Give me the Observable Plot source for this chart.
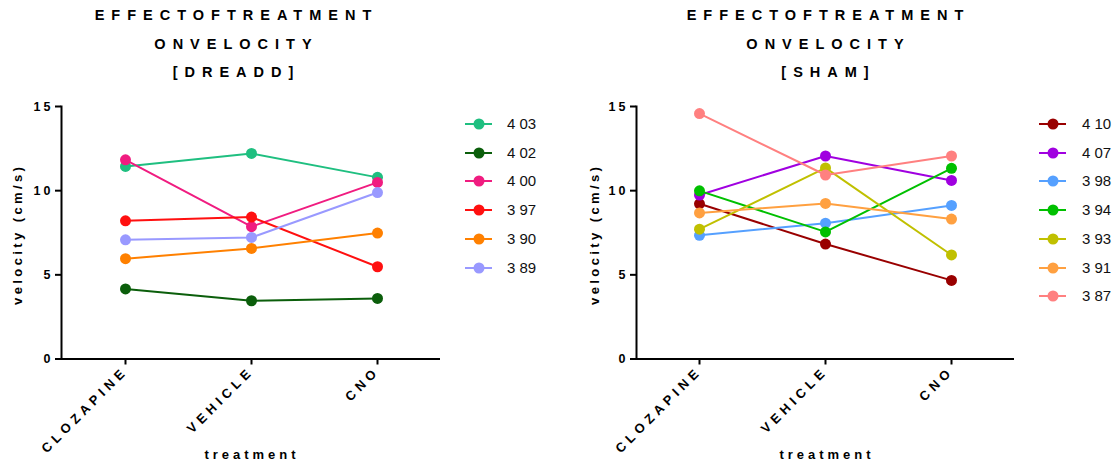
<!DOCTYPE html>
<html><head><meta charset="utf-8">
<script src="https://cdn.jsdelivr.net/npm/d3@7"></script>
<script src="https://cdn.jsdelivr.net/npm/@observablehq/plot@0.6"></script>
<style>
body{margin:0;background:#fff;font-family:"Liberation Sans",Arial,sans-serif;}
#root{position:relative;width:1118px;height:466px;overflow:hidden;background:#fff;}
.title{position:absolute;width:400px;text-align:center;font-weight:bold;font-size:14.5px;letter-spacing:7px;line-height:28.5px;top:1px;color:#000;padding-left:7px;box-sizing:border-box;}
.ylab{position:absolute;width:240px;height:16px;line-height:16px;text-align:center;font-weight:bold;font-size:13px;letter-spacing:3.4px;transform:rotate(-90deg);color:#000;padding-left:3.4px;box-sizing:border-box;}
.xlab{position:absolute;width:200px;height:16px;line-height:16px;text-align:center;font-weight:bold;font-size:13px;letter-spacing:4px;color:#000;padding-left:4px;box-sizing:border-box;}
.chart{position:absolute;top:90px;}
.leg{position:absolute;height:28px;line-height:28px;font-size:15px;color:#111;white-space:nowrap;}
.leg svg{position:absolute;top:8px;}
.leg span{position:absolute;}
svg g[aria-label="y-axis tick label"] text{letter-spacing:3px;}
svg g[aria-label="x-axis tick label"] text{letter-spacing:4.5px;}
</style>
</head><body>
<div id="root"></div>
<script>
const treatments = ["CLOZAPINE", "VEHICLE", "CNO"];
const yTicks = [0, 5, 10, 15];

const dreaddIds = ["403", "402", "400", "397", "390", "389"];
const dreaddColors = ["#1fbf80", "#0b5e0b", "#f01c80", "#ff1010", "#ff8000", "#9999ff"];
const dreadd403 = [11.44, 12.21, 10.79];
const dreadd402 = [4.16, 3.46, 3.60];
const dreadd400 = [11.83, 7.86, 10.49];
const dreadd397 = [8.21, 8.43, 5.48];
const dreadd390 = [5.96, 6.57, 7.48];
const dreadd389 = [7.08, 7.22, 9.89];

const shamIds = ["410", "407", "398", "394", "393", "391", "387"];
const shamColors = ["#990000", "#a000e0", "#55a0ff", "#00c000", "#c0c000", "#ffa040", "#ff8080"];
const sham410 = [9.22, 6.83, 4.67];
const sham407 = [9.74, 12.06, 10.61];
const sham398 = [7.35, 8.07, 9.12];
const sham394 = [9.99, 7.55, 11.33];
const sham393 = [7.71, 11.35, 6.18];
const sham391 = [8.68, 9.24, 8.31];
const sham387 = [14.58, 10.93, 12.06];

const dreaddValues = [dreadd403, dreadd402, dreadd400, dreadd397, dreadd390, dreadd389];
const shamValues = [sham410, sham407, sham398, sham394, sham393, sham391, sham387];

const root = document.getElementById("root");

function el(cls, html, style) {
  const d = document.createElement("div");
  d.className = cls;
  d.innerHTML = html;
  Object.assign(d.style, style);
  root.appendChild(d);
  return d;
}

function makeChart(ids, values, colors, left, width, marginRight) {
  const marks = [];
  ids.forEach((id, i) => {
    const d = treatments.map((t, j) => ({id, treatment: t, v: values[i][j]}));
    marks.push(Plot.line(d, {x: "treatment", y: "v", stroke: colors[i], strokeWidth: 2}));
    marks.push(Plot.dot(d, {x: "treatment", y: "v", fill: colors[i], r: 5.5}));
  });
  const chart = Plot.plot({
    width, height: 376,
    marginLeft: 61, marginRight, marginTop: 16, marginBottom: 107.5,
    style: {fontFamily: "'Liberation Sans', Arial, sans-serif", background: "transparent", overflow: "visible", color: "#000"},
    x: {type: "point", domain: treatments, padding: 0.5, label: null},
    y: {domain: [0, 15], label: null},
    marks: [
      Plot.axisY({ticks: yTicks, tickSize: 6, tickPadding: 2, fontWeight: "bold", fontSize: 12.5, label: null, strokeWidth: 2}),
      Plot.axisX({tickSize: 6, tickPadding: 4, tickRotate: -45, fontWeight: "bold", fontSize: 13, label: null, strokeWidth: 2}),
      Plot.ruleY([0], {strokeWidth: 2}),
      Plot.frame({anchor: "left", strokeWidth: 2}),
      ...marks
    ]
  });
  chart.classList.add("chart");
  chart.style.left = left + "px";
  root.appendChild(chart);
}

function makeLegend(ids, colors, lineLeft, textLeft) {
  ids.forEach((id, i) => {
    const row = document.createElement("div");
    row.className = "leg";
    row.style.left = lineLeft + "px";
    row.style.top = (124 - 14 + i * 28.7) + "px";
    const s = d3.create("svg").attr("width", 28).attr("height", 12);
    s.append("line").attr("x1", 0).attr("x2", 27).attr("y1", 6).attr("y2", 6).attr("stroke", colors[i]).attr("stroke-width", 2);
    s.append("circle").attr("cx", 14).attr("cy", 6).attr("r", 5.5).attr("fill", colors[i]);
    row.appendChild(s.node());
    const sp = document.createElement("span");
    sp.style.left = (textLeft - lineLeft) + "px";
    sp.textContent = id.slice(0, 1) + " " + id.slice(1);
    row.appendChild(sp);
    root.appendChild(row);
  });
}

el("title", "EFFECTOFTREATMENT<br>ONVELOCITY<br>[DREADD]", {left: "33px"});
el("title", "EFFECTOFTREATMENT<br>ONVELOCITY<br>[SHAM]", {left: "625px"});

makeChart(dreaddIds, dreaddValues, dreaddColors, 0, 560, 120);
makeChart(shamIds, shamValues, shamColors, 575, 543, 104);

el("ylab", "velocity (cm/s)", {left: (18 - 120) + "px", top: (236 - 8) + "px"});
el("ylab", "velocity (cm/s)", {left: (595 - 120) + "px", top: (236 - 8) + "px"});
el("xlab", "treatment", {left: (250 - 100) + "px", top: (455 - 8) + "px"});
el("xlab", "treatment", {left: (825 - 100) + "px", top: (455 - 8) + "px"});

makeLegend(dreaddIds, dreaddColors, 465, 507);
makeLegend(shamIds, shamColors, 1039, 1082);
</script>
</body></html>
